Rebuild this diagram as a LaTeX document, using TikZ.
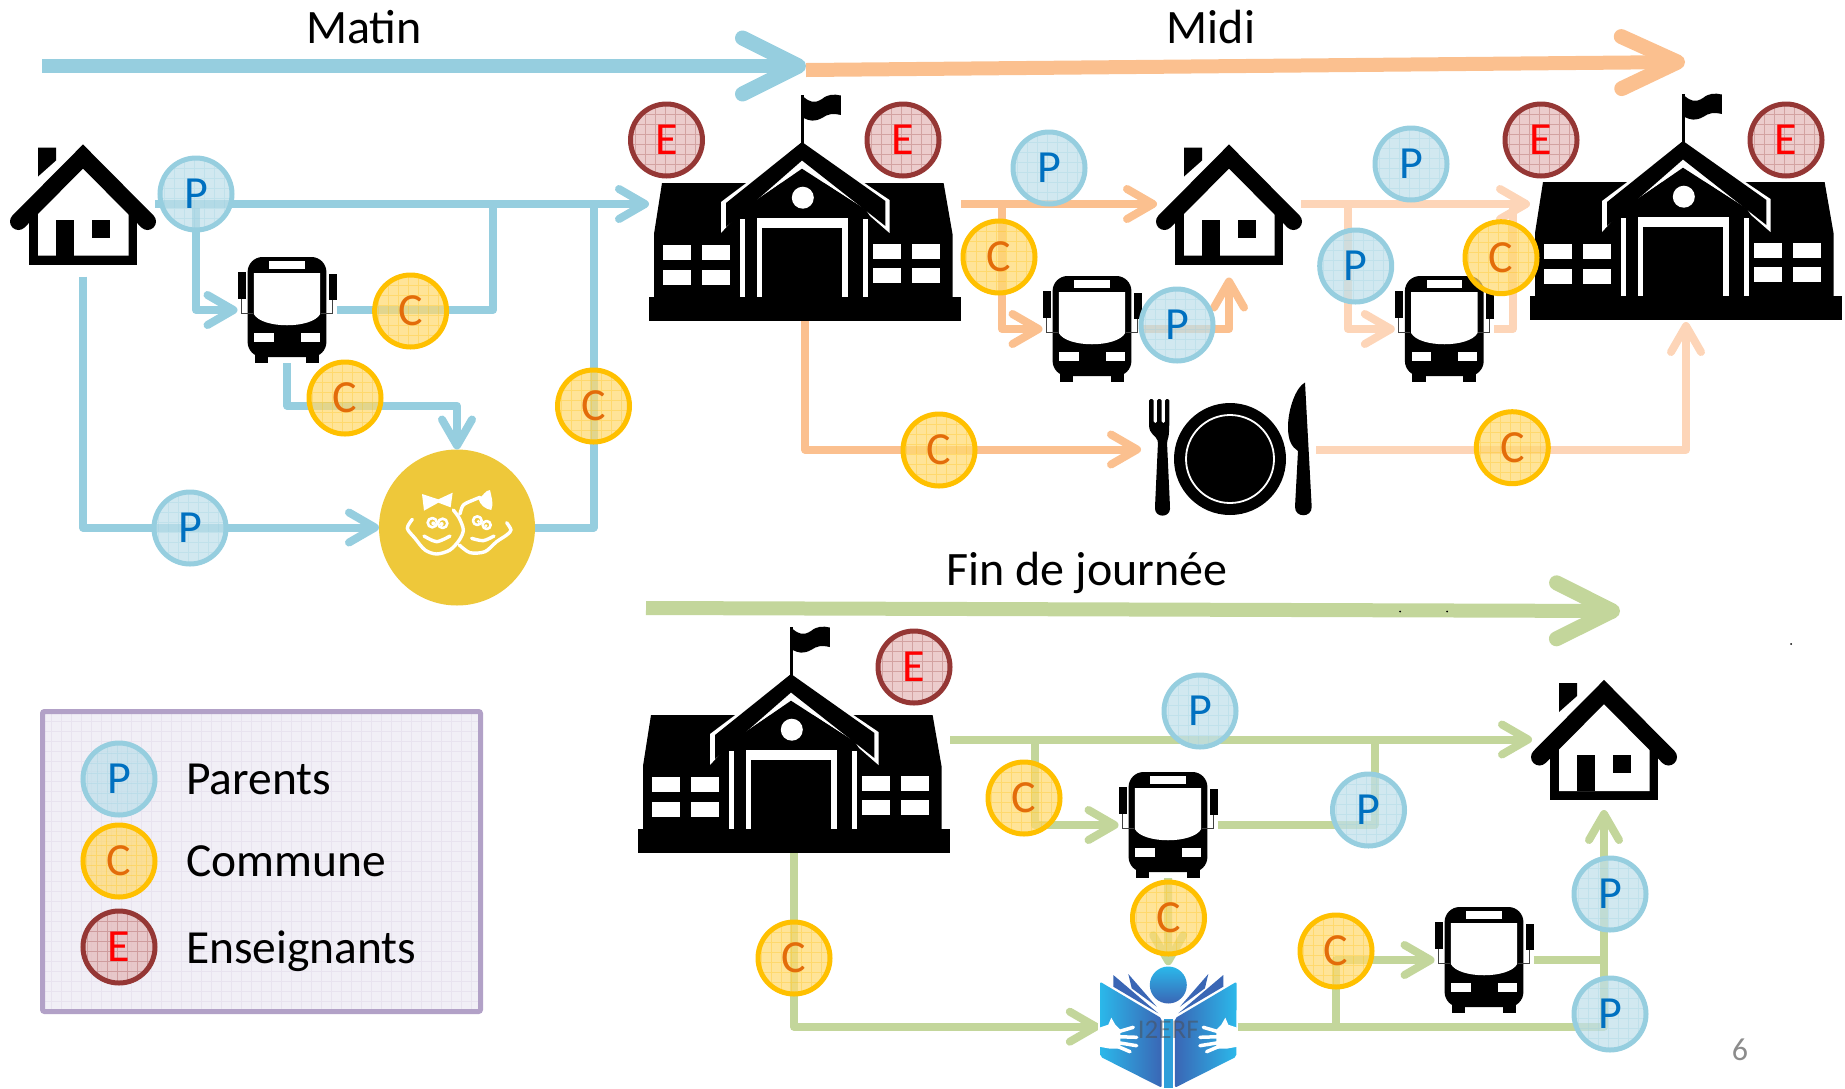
\documentclass[tikz,border=0pt]{standalone}
\usepackage{fontspec}
\setmainfont{Carlito}
\usetikzlibrary{arrows.meta}
\pgfdeclarelayer{front}
\pgfsetlayers{main,front}
\definecolor{bluel}{HTML}{96CEDF}
\definecolor{orangel}{HTML}{FBC08F}
\definecolor{palel}{HTML}{FDD5B8}
\definecolor{greenl}{HTML}{C3D69B}
\definecolor{pstroke}{HTML}{96CEDF}
\definecolor{pfill}{HTML}{BFDFEA}
\definecolor{ptext}{HTML}{0070C0}
\definecolor{cstroke}{HTML}{FFC000}
\definecolor{cfill}{HTML}{FFD970}
\definecolor{ctext}{HTML}{E36C0A}
\definecolor{estroke}{HTML}{953735}
\definecolor{efill}{HTML}{E4B8B8}
\definecolor{etext}{HTML}{FF0000}
\definecolor{legstroke}{HTML}{B2A1C7}
\definecolor{legfill}{HTML}{F1EFF6}
\definecolor{kidfill}{HTML}{EEC83A}
\definecolor{bookhi}{HTML}{2BB8EA}
\definecolor{booklo}{HTML}{3A66B5}
\definecolor{numgray}{HTML}{8C8C8C}
\newcommand{\bigfont}{\fontsize{48}{50}\selectfont}
\newcommand{\legfont}{\fontsize{47.5}{50}\selectfont}
\newcommand{\badgefont}{\fontsize{46}{48}\selectfont}
\tikzset{
  tipsmall/.tip={Straight Barb[length=26pt,width=30pt,line width=8pt,round]},
  flow/.style={line width=8pt,line join=round,-{tipsmall}},
  plainflow/.style={line width=8pt,line join=round},
  badge/.style={circle,minimum size=72pt,inner sep=0pt,line width=5pt,fill opacity=.72,draw opacity=1,text opacity=1,font=\badgefont},
  gridded/.style={path picture={\draw[#1,line width=.7pt,opacity=.28,step=10pt] (path picture bounding box.south west) grid (path picture bounding box.north east);}},
  pbadge/.style={badge,draw=pstroke,fill=pfill,text=ptext,gridded=pstroke},
  cbadge/.style={badge,draw=cstroke,fill=cfill,text=ctext,gridded=cstroke},
  ebadge/.style={badge,draw=estroke,fill=efill,text=etext,gridded=estroke},
  iconbox/.style={rectangle,inner sep=0pt,outer sep=0pt},
  busbox/.style={iconbox,minimum width=99pt,minimum height=106pt},
  housebox/.style={iconbox,minimum width=144pt,minimum height=121pt},
  schoolbox/.style={iconbox,minimum width=312pt,minimum height=226pt},
  title/.style={anchor=base,font=\bigfont,inner sep=0pt},
  legtext/.style={anchor=base west,font=\legfont,inner sep=0pt},
  pics/housepic/.style={code={
    \fill[black] (-54,70) rectangle (54,121);
    \fill[white] (0,26) -- (-45,70) -- (-45,112) -- (45.7,112) -- (45.7,70) -- cycle;
    \draw[black,line width=17pt,line cap=round,line join=miter] (-64.5,78) -- (0,13) -- (64.5,78);
    \fill[black] (-27,76) rectangle (-9.4,112);
    \fill[black] (9,76) rectangle (26.5,94);
    \fill[black] (-45,4) -- (-27,4) -- (-27,17) -- (-45,33) -- cycle;
  }},
  pics/buspic/.style={code={
    \fill[black,rounded corners=15pt] (-39.4,100) -- (-39.4,0) -- (39.4,0) -- (39.4,100) -- cycle;
    \fill[black] (-32,95) rectangle (-18.8,106);
    \fill[black] (18.8,95) rectangle (32,106);
    \fill[black] (-49,15) rectangle (-41,42);
    \fill[black] (42,17) rectangle (50,43);
    \draw[black!75,line width=1pt] (-45.5,42) -- (-45.5,56) -- (-34,56);
    \draw[black!75,line width=1pt] (45.5,43) -- (45.5,56) -- (34,56);
    \fill[white] (-33.2,16) -- (33.2,16) -- (33.2,57) .. controls (25,72) and (-25,72) .. (-33.2,57) -- cycle;
    \fill[white] (-32.6,76) rectangle (-13.5,85);
    \fill[white] (13.5,76) rectangle (33,85);
    \fill[white] (-17.6,3.5) rectangle (17.6,12);
  }},
  pics/schoolpic/.style={code={
    \fill[black] (-153,155) rectangle (159,179);
    \fill[black] (-148,156) -- (-148,92) -- (-140,41) -- (141.6,41) -- (150.5,92) -- (150.5,156) -- cycle;
    \fill[white] (0,-1) -- (87.5,58) -- (87.5,91) -- (68,74) -- (64,68) -- (0,26.7) -- (-60,68) -- (-81,91) -- (-81,60) -- cycle;
    \fill[black] (0,0) -- (83.4,59) -- (83.4,84) -- (0,18.5) -- (-76,85) -- (-76,61) -- cycle;
    \fill[black] (0,26.7) -- (64,68) -- (64,78) -- (-60,78) -- (-60,68) -- cycle;
    \fill[white] (0.8,55.7) circle (11);
    \fill[white] (-62.4,77) rectangle (-57.5,155);
    \fill[white] (-45,76) rectangle (-40,155);
    \fill[white] (40.4,76) rectangle (45.7,155);
    \fill[white] (61,77) rectangle (66,155);
    \fill[white] (-40,76) rectangle (41.6,86);
    \foreach \xa/\xb in {-139/-111.4,-100/-71.8}{
      \fill[white] (\xa,103.3) rectangle (\xb,118.3);
      \fill[white] (\xa,127.7) rectangle (\xb,142.7);}
    \foreach \xa/\xb in {71/98.8,110/138}{
      \fill[white] (\xa,101.7) rectangle (\xb,116.7);
      \fill[white] (\xa,126) rectangle (\xb,141);}
    \fill[black] (-1.2,-46.7) rectangle (1.6,1);
    \fill[black] (1.6,-45) .. controls (8,-40) and (12,-38) .. (20,-43) .. controls (26,-48) and (32,-48) .. (38.8,-46.5) -- (38.8,-27) .. controls (30,-29) and (26,-28) .. (20,-24) .. controls (12,-20) and (8,-21) .. (1.6,-24) -- cycle;
  }},
  pics/mealpic/.style={code={
    % origin at the plate centre
    \fill[black] (0,0) circle (56);
    \draw[white,line width=1.8pt] (0,0) circle (44);
    % fork
    \fill[black,rounded corners=1.5pt] (-81,-60) -- (-81,-36) .. controls (-81,-24) and (-74,-24) .. (-72,-17) -- (-75,48) .. controls (-75,59) and (-60,59) .. (-60,48) -- (-63,-17) .. controls (-61,-24) and (-61,-24) .. (-60.7,-36) -- (-60.7,-60) -- (-65,-60) -- (-65,-36) -- (-68.5,-36) -- (-68.5,-60) -- (-72.8,-60) -- (-72.8,-36) -- (-76.5,-36) -- (-76.5,-60) -- cycle;
    % knife
    \fill[black] (75,-76.5) .. controls (66,-72) and (58,-50) .. (58,-32) .. controls (58,-18) and (62,-12) .. (68,-8) -- (65,48) .. controls (65,59) and (81.7,59) .. (81.7,48) -- cycle;
  }},
  pics/bookpic/.style={code={
    \fill[white] (-70,-50) rectangle (70,62);
    \foreach \sgn in {-1,1}{
      \begin{scope}[xscale=\sgn]
        \fill[booklo] (-55,-51.7) -- (-10,-13.4) -- (-55,-40) -- cycle;
        \fill[booklo] (-40,-52.7) -- (-11.6,-20) -- (-36.6,-38.4) -- cycle;
      \end{scope}}
    \shade[left color=bookhi,right color=booklo,rounded corners=2pt] (-68.3,-45) -- (-6.6,-8.4) -- (-6.6,61) -- (-68,30) -- cycle;
    \shade[left color=booklo,right color=bookhi,rounded corners=2pt] (68.3,-45) -- (6.6,-8.4) -- (6.6,61) -- (68,30) -- cycle;
    \fill[bookhi!70!booklo] (-4.5,-8) rectangle (4.5,61);
    \shade[top color=bookhi,bottom color=booklo] (0,-41.7) circle (18.5);
    \foreach \sgn in {-1,1}{
      \begin{scope}[xscale=\sgn]
        \fill[white] (-69,1) -- (-60,-2) -- (-57,-9) -- (-53,-2) -- (-48,3) -- (-48,22) -- (-58,22) -- (-69,20) -- cycle;
        \draw[white,line width=3.5pt,line cap=round] (-50,5) -- (-35,0.6);
        \draw[white,line width=3.5pt,line cap=round] (-50,10) -- (-31.6,10.6);
        \draw[white,line width=3.5pt,line cap=round] (-50,16) -- (-31.6,19);
        \draw[white,line width=3.5pt,line cap=round] (-50,20) -- (-38.3,25);
      \end{scope}}
  }},
}
\begin{document}
\begin{tikzpicture}[x=1pt,y=-1pt]
\useasboundingbox (0,0) rectangle (1845,1088);

% legend
\node[rectangle,rounded corners=2pt,minimum width=438pt,minimum height=300pt,draw=legstroke,fill=legfill,line width=5pt,gridded=legstroke!60] (legendbox) at (261.5,861.5) {};

% badges (front layer, but defined first so connectors can use them)
\begin{pgfonlayer}{front}
\node[pbadge] (lp) at (119,779) {P};
\node[cbadge] (lc) at (119,861) {C};
\node[ebadge] (le) at (119,947) {E};
\node[pbadge] (m1) at (196,194) {P};
\node[pbadge] (m2) at (190,528) {P};
\node[cbadge] (m3) at (410.6,311) {C};
\node[cbadge] (m4) at (345,398) {C};
\node[cbadge] (m5) at (593.5,406) {C};
\node[ebadge] (e1) at (666.5,140) {E};
\node[ebadge] (e2) at (903,140) {E};
\node[pbadge] (n1) at (1049,168) {P};
\node[cbadge] (n2) at (999,257) {C};
\node[pbadge] (n3) at (1177,325) {P};
\node[cbadge] (n4) at (939,450) {C};
\node[pbadge] (n5) at (1411,164) {P};
\node[ebadge] (e3) at (1541,140) {E};
\node[ebadge] (e4) at (1786,140) {E};
\node[pbadge] (n6) at (1355.7,266) {P};
\node[cbadge] (n7) at (1501,257.7) {C};
\node[cbadge] (n8) at (1512.3,447.7) {C};
\node[ebadge] (e5) at (914,667) {E};
\node[pbadge] (f1) at (1200,711) {P};
\node[cbadge] (f2) at (1024,798) {C};
\node[pbadge] (f3) at (1368.5,810) {P};
\node[cbadge] (f4) at (794,958) {C};
\node[cbadge] (f5) at (1168.5,918) {C};
\node[cbadge] (f6) at (1336,951) {C};
\node[pbadge] (f7) at (1610,894) {P};
\node[pbadge] (f8) at (1610,1014) {P};
\end{pgfonlayer}

% icon boxes
\node[housebox] (house1) at (83,204) {};
\node[housebox] (house2) at (1229,204) {};
\node[housebox] (house3) at (1604,739.5) {};
\node[busbox] (bus1) at (287,310) {};
\node[busbox] (bus2) at (1092,329) {};
\node[busbox] (bus3) at (1444.3,329) {};
\node[busbox] (bus4) at (1168,825) {};
\node[busbox] (bus5) at (1484,960) {};
\node[schoolbox] (school1) at (805,208) {};
\node[schoolbox] (school2) at (1686,207) {};
\node[schoolbox] (school3) at (794,740) {};
\node[iconbox,minimum width=175pt,minimum height=134pt] (meal) at (1228.5,449.5) {};
\node[iconbox,minimum width=137pt,minimum height=123pt] (book) at (1168.3,1026.7) {};
\node[circle,fill=kidfill,minimum size=156pt,inner sep=0pt,outer sep=0pt] (kids) at (457,527.5) {};

% titles
\node[title] (tmatin) at (364,43) {Matin};
\node[title] (tmidi) at (1211,43) {Midi};
\node[title] (tfin) at (1087,585) {Fin de journée};
\coordinate (ba) at (42,66);
\coordinate (bb) at (806,66);
\coordinate (oa) at (806,70);
\coordinate (ob) at (1685,62);
\coordinate (ga) at (646,608);
\coordinate (gb) at (1620,611);
\draw[bluel,line width=14pt,-{Straight Barb[length=56pt,width=56pt,line width=15pt,round]}] (ba) -- (bb);
\draw[orangel,line width=14pt,-{Straight Barb[length=56pt,width=52pt,line width=15pt,round]}] (oa) -- (ob);
\draw[greenl,line width=14pt,-{Straight Barb[length=56pt,width=56pt,line width=15pt,round]}] (ga) -- (gb);

% Matin connectors
\coordinate (mjoin) at (493,204);
\begin{scope}[bluel]
\draw[flow] (house1.east) -- (school1.west |- house1.east);
\draw[flow] (m1 |- house1.east) |- (bus1.west);
\draw[plainflow] (bus1.east) -| (mjoin);
\draw[flow] (bus1.south) |- ([yshift=-7.7pt]kids.north |- m4) -- (kids.north);
\draw[flow] ([yshift=-12pt]house1.south) |- (kids.west);
\draw[plainflow] (kids.east) -| (m5 |- house1.east);
\end{scope}

% Midi connectors
\begin{scope}[orangel]
\draw[flow] (school1.east |- house2.west) -- (house2.west);
\draw[flow] ([xshift=3pt]n2 |- house2.west) |- (bus2.west);
\draw[flow] (bus2.east) -| ([yshift=-13pt]house2.south);
\draw[flow] (school1.south) |- (meal.west);
\end{scope}
\begin{scope}[palel]
\draw[flow] (house2.east) -- (school2.west |- house2.east);
\draw[flow] ([xshift=-8pt]n6 |- house2.east) |- (bus3.west);
\draw[plainflow] (bus3.east) -| ([xshift=11.7pt]n7 |- house2.east);
\draw[flow] (meal.east) -| ([yshift=-2pt]school2.south);
\end{scope}

% Fin de journee connectors
\begin{scope}[greenl]
\draw[flow] (school3.east |- house3.west) -- (house3.west);
\draw[flow] ([xshift=10.7pt]f2 |- house3.west) |- (bus4.west);
\draw[plainflow] (bus4.east) -| ([xshift=6pt]f3 |- house3.west);
\draw[flow] (school3.south) |- (book.west);
\draw[flow] (bus4.south) -- (book.north);
\draw[flow] (book.east) -| ([yshift=-10pt]house3.south);
\draw[flow] (f6 |- book.east) |- (bus5.west);
\draw[plainflow] (bus5.east) -- (house3.south |- bus5.east);
\end{scope}

% icons
\pic at (83,143.5) {housepic};
\pic at (1229,143.5) {housepic};
\pic at (1604,679) {housepic};
\pic at (287,257) {buspic};
\pic at (1092,276) {buspic};
\pic at (1444.3,276) {buspic};
\pic at (1168,772) {buspic};
\pic at (1484,907) {buspic};
\pic at (802,142) {schoolpic};
\pic at (1683,141) {schoolpic};
\pic at (791,674) {schoolpic};
\pic at (1230,459) {mealpic};
\pic at (1168.3,1026.7) {bookpic};
\node[text=black!70,opacity=.5,font=\fontsize{27}{29}\selectfont] (wmark) at (1168.3,1030) {I2ERF};

% children
\begin{scope}[shift={(400,470)},x=.3333pt,y=-.3333pt,white,line width=3.4pt,line cap=round,line join=round]
\draw plot[smooth] coordinates {(37,148) (22,175) (45,205) (75,240) (110,252) (150,240) (178,210) (190,180) (178,145) (160,120)};
\draw plot[smooth] coordinates {(180,132) (190,105) (220,90) (240,82)};
\draw plot[smooth] coordinates {(178,225) (210,248) (255,245) (290,215) (320,195) (333,180) (320,158)};
\draw plot[smooth] coordinates {(72,198) (110,215) (150,198)};
\draw plot[smooth] coordinates {(215,205) (250,212) (282,198)};
\draw[line width=2.6pt] (97,158) circle (14);
\draw[line width=2.6pt] (128,160) circle (14);
\draw[line width=2.6pt] (232,152) circle (13);
\draw[line width=2.6pt] (260,165) circle (12);
\fill (100,160) circle (6); \fill (125,162) circle (6);
\fill (235,154) circle (5); \fill (258,167) circle (5);
\fill (66,72) -- (115,88) -- (158,68) -- (152,112) -- (115,98) -- (72,122) -- cycle;
\fill (235,85) .. controls (250,80) and (255,60) .. (270,60) .. controls (274,80) and (282,100) .. (274,120) .. controls (255,117) and (240,105) .. (235,85) -- cycle;
\end{scope}

% legend texts
\node[legtext] (tparents) at (186,794) {Parents};
\node[legtext] (tcommune) at (186,876) {Commune};
\node[legtext] (tenseign) at (186,963) {Enseignants};
\node[text=numgray,font=\fontsize{32}{34}\selectfont,inner sep=0pt] (pagenum) at (1740,1050) {6};
\fill[black] (1400,611.5) circle (1); \fill[black] (1447,611.5) circle (1); \fill[black] (1791,644) circle (1);
\end{tikzpicture}
\end{document}
